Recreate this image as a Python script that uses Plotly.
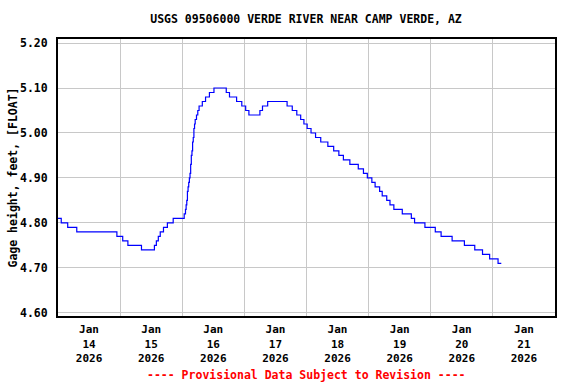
import plotly.graph_objects as go

# Change points of the 15-minute gage-height record (step line)
times = [
    "2026-01-14 00:00", "2026-01-14 01:15", "2026-01-14 03:45", "2026-01-14 07:15",
    "2026-01-14 22:45", "2026-01-15 01:00", "2026-01-15 03:00", "2026-01-15 08:15",
    "2026-01-15 13:15", "2026-01-15 14:00", "2026-01-15 14:45", "2026-01-15 15:30",
    "2026-01-15 16:45", "2026-01-15 18:15", "2026-01-15 20:30", "2026-01-16 00:45",
    "2026-01-16 01:15", "2026-01-16 01:30", "2026-01-16 01:45", "2026-01-16 02:00",
    "2026-01-16 02:15", "2026-01-16 02:30", "2026-01-16 02:45", "2026-01-16 03:00",
    "2026-01-16 03:15", "2026-01-16 03:30", "2026-01-16 03:45", "2026-01-16 04:00",
    "2026-01-16 04:15", "2026-01-16 04:30", "2026-01-16 04:45", "2026-01-16 05:00",
    "2026-01-16 05:30", "2026-01-16 06:00", "2026-01-16 06:30", "2026-01-16 07:45",
    "2026-01-16 09:00", "2026-01-16 10:30", "2026-01-16 12:15", "2026-01-16 17:00",
    "2026-01-16 18:15", "2026-01-16 21:00", "2026-01-16 23:00", "2026-01-17 00:30",
    "2026-01-17 01:45", "2026-01-17 06:00", "2026-01-17 07:00", "2026-01-17 09:00",
    "2026-01-17 16:30", "2026-01-17 18:30", "2026-01-17 20:15", "2026-01-17 21:45",
    "2026-01-17 23:00", "2026-01-18 00:15", "2026-01-18 01:45", "2026-01-18 03:30",
    "2026-01-18 05:30", "2026-01-18 08:15", "2026-01-18 10:30", "2026-01-18 12:30",
    "2026-01-18 14:15", "2026-01-18 16:45", "2026-01-18 20:00", "2026-01-18 22:00",
    "2026-01-18 23:30", "2026-01-19 01:15", "2026-01-19 02:30", "2026-01-19 04:15",
    "2026-01-19 05:15", "2026-01-19 07:00", "2026-01-19 08:15", "2026-01-19 09:45",
    "2026-01-19 13:00", "2026-01-19 16:30", "2026-01-19 17:45", "2026-01-19 21:45",
    "2026-01-20 01:45", "2026-01-20 04:00", "2026-01-20 08:15", "2026-01-20 13:00",
    "2026-01-20 17:00", "2026-01-20 20:00", "2026-01-20 22:45", "2026-01-21 02:00",
    "2026-01-21 03:15",
]
gage_ft = [
    4.81, 4.80, 4.79, 4.78,
    4.77, 4.76, 4.75, 4.74,
    4.75, 4.76, 4.77, 4.78,
    4.79, 4.80, 4.81, 4.82,
    4.83, 4.84, 4.85, 4.87,
    4.88, 4.89, 4.90, 4.91,
    4.93, 4.95, 4.96, 4.98,
    4.99, 5.01, 5.02, 5.03,
    5.04, 5.05, 5.06, 5.07,
    5.08, 5.09, 5.10, 5.09,
    5.08, 5.07, 5.06, 5.05,
    5.04, 5.05, 5.06, 5.07,
    5.06, 5.05, 5.04, 5.03,
    5.02, 5.01, 5.00, 4.99,
    4.98, 4.97, 4.96, 4.95,
    4.94, 4.93, 4.92, 4.91,
    4.90, 4.89, 4.88, 4.87,
    4.86, 4.85, 4.84, 4.83,
    4.82, 4.81, 4.80, 4.79,
    4.78, 4.77, 4.76, 4.75,
    4.74, 4.73, 4.72, 4.71,
    4.71,
]

y_ticks = [4.60, 4.70, 4.80, 4.90, 5.00, 5.10, 5.20]
x_range = ["2026-01-14 00:00", "2026-01-22 00:00"]
y_range = [4.593, 5.209]

title_text = "USGS 09506000 VERDE RIVER NEAR CAMP VERDE, AZ"
y_title = "Gage height, feet, [FLOAT]"
note_text = "---- Provisional Data Subject to Revision ----"

FONT = "DejaVu Sans Mono"

fig = go.Figure(
    go.Scatter(
        x=times, y=gage_ft, mode="lines", line_shape="hv",
        line=dict(color="#0000FF", width=1.2), showlegend=False,
    )
)

fig.update_layout(
    width=576, height=384,
    margin=dict(l=58, r=21, t=39, b=68),
    paper_bgcolor="white", plot_bgcolor="white",
    font=dict(family=FONT, size=11, color="black", weight="bold"),
    title=dict(text=title_text, x=306 / 576, xanchor="center", y=1 - 19 / 384,
               yanchor="middle", font=dict(family=FONT, size=11.5, weight="bold")),
    annotations=[dict(
        text=note_text, xref="paper", yref="paper", x=0.5, y=-(375 - 316) / 277,
        xanchor="center", yanchor="middle", showarrow=False,
        font=dict(family=FONT, size=11.5, color="#FF0000", weight="bold"),
    )],
)

fig.update_xaxes(
    type="date", range=x_range, automargin=False,
    dtick=86400000, tick0="2026-01-14", ticklabelmode="period",
    tickformat="%b<br>%d<br>%Y", ticks="",
    showgrid=True, gridcolor="#C8C8C8", gridwidth=1,
    showline=True, linecolor="black", linewidth=2, mirror=True,
    zeroline=False, ticklabelstandoff=2,
    tickfont=dict(family=FONT, size=11, weight="bold"),
)

fig.update_yaxes(
    range=y_range, tickvals=y_ticks, tickformat=".2f", ticks="",
    automargin=False,
    showgrid=True, gridcolor="#C8C8C8", gridwidth=1,
    showline=True, linecolor="black", linewidth=2, mirror=True,
    zeroline=False, ticklabelstandoff=6,
    tickfont=dict(family=FONT, size=11.5, weight="bold"),
    title=dict(text=y_title, standoff=0,
               font=dict(family=FONT, size=11.5, weight="bold")),
)

fig.write_html("out.html", config={"displayModeBar": False},
               post_script="document.body.style.margin='0';")
